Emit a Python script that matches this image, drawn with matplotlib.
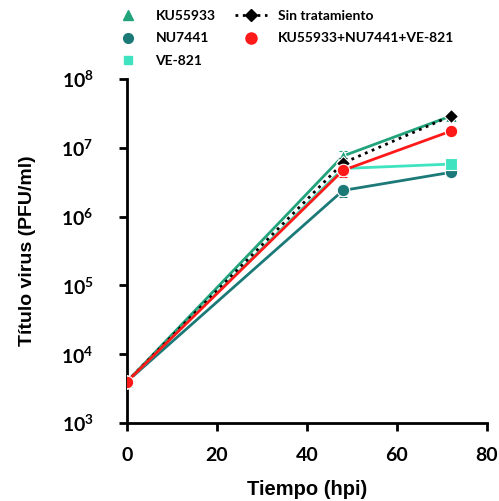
import matplotlib
matplotlib.use("Agg")
import matplotlib.pyplot as plt
from matplotlib.lines import Line2D
import numpy as np

plt.rcParams["mathtext.fontset"] = "custom"
plt.rcParams["mathtext.rm"] = "Lato:bold"
plt.rcParams["mathtext.bf"] = "Lato:bold"
plt.rcParams["mathtext.it"] = "Lato:bold"

hours = [0, 48, 72]
ku55933 = [4.0e3, 7.6e6, 2.9e7]
nu7441 = [4.0e3, 2.4e6, 4.4e6]
ve821 = [4.0e3, 5.0e6, 5.8e6]
sin_trat = [4.0e3, 6.0e6, 2.9e7]
combo = [4.0e3, 4.7e6, 1.75e7]
err_frac = [0.0, 0.2, 0.12]

labels = ["KU55933", "NU7441", "VE-821", "Sin tratamiento", "KU55933+NU7441+VE-821"]

c_ku = "#22a37c"
c_nu = "#1b7a78"
c_ve = "#3fe3c0"
c_red = "#ff1a1a"

fig = plt.figure(figsize=(4.99, 5.01), dpi=100)
ax = fig.add_axes([127/499, 1-423/501, 360/499, 344/501])

def plot_series(y, color, marker, ls, ms, z):
    y = np.array(y)
    e = y * np.array(err_frac)
    ax.errorbar(hours, y, yerr=e, color=color, marker=marker, ls=ls, lw=2,
                ms=ms, capsize=3, elinewidth=1.2, capthick=1.2, zorder=z,
                markeredgecolor="white", markeredgewidth=0.8)

plot_series(nu7441, c_nu, "o", "-", 9, 3)
plot_series(ve821, c_ve, "s", "-", 8, 3)
plot_series(ku55933, c_ku, "^", "-", 9, 4)
plot_series(sin_trat, "black", "D", ":", 7, 5)
plot_series(combo, c_red, "o", "-", 9, 6)

ax.set_yscale("log")
ax.set_ylim(1e3, 1e8)
ax.set_xlim(0, 80)
ax.set_xticks([0, 20, 40, 60, 80])
ax.set_yticks([1e3, 1e4, 1e5, 1e6, 1e7, 1e8])
ax.minorticks_off()
ax.spines["top"].set_visible(False)
ax.spines["right"].set_visible(False)
ax.spines["left"].set_linewidth(2)
ax.spines["bottom"].set_linewidth(2)
ax.spines["bottom"].set_bounds(0, 80)
ax.tick_params(axis="both", width=2, length=6, labelsize=14)
ax.tick_params(axis="x", pad=11)
ax.tick_params(axis="y", pad=18)
for lab in ax.get_xticklabels() + ax.get_yticklabels():
    lab.set_fontfamily("Lato")
    lab.set_fontweight("bold")
ax.set_xlabel("Tiempo (hpi)", fontsize=14.5, fontweight="bold",
              fontfamily="Liberation Sans", labelpad=12)
ax.set_ylabel("Título virus (PFU/ml)", fontsize=14, fontweight="bold",
              fontfamily="Liberation Sans", labelpad=18)
for sp in ax.spines.values():
    sp.set_clip_on(False)

handles = [
    Line2D([], [], color=c_ku, marker="^", ls="none", ms=7),
    Line2D([], [], color=c_nu, marker="o", ls="none", ms=7),
    Line2D([], [], color=c_ve, marker="s", ls="none", ms=6),
    Line2D([], [], color="black", marker="D", ls=":", lw=2, ms=6),
    Line2D([], [], color=c_red, marker="o", ls="none", ms=8),
]
fig.legend(handles, labels, ncol=2, loc="upper left", bbox_to_anchor=(100/499, 1.005),
           frameon=False, prop={"family": "Lato", "weight": "bold", "size": 10},
           handlelength=2.3, columnspacing=1.4, labelspacing=0.75, handletextpad=0.8)

fig.savefig("out.png", dpi=100)
